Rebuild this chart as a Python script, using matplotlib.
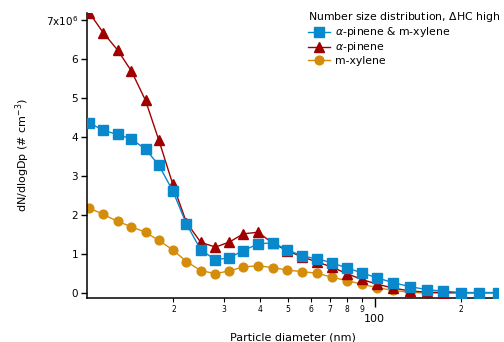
import matplotlib
matplotlib.use('Agg')
import matplotlib.pyplot as plt
from matplotlib.ticker import FixedLocator, FixedFormatter, FuncFormatter

# particle diameter (nm)
dp = [10.2, 11.4, 12.8, 14.3, 16.0, 17.8, 19.9, 22.2, 24.9, 28.0,
      31.3, 35.0, 39.3, 44.3, 49.8, 56.0, 63.0, 70.9, 80.0, 90.3,
      101.9, 115.8, 132.5, 151.6, 173.3, 199.4, 229.7, 267.6]

# dN/dlogDp, units of 1e6 cm^-3
mix = [4.36, 4.16, 4.06, 3.94, 3.68, 3.27, 2.61, 1.76, 1.10, 0.84,
       0.90, 1.08, 1.25, 1.28, 1.10, 0.94, 0.87, 0.77, 0.635, 0.51,
       0.38, 0.26, 0.155, 0.08, 0.04, 0.005, 0.005, 0.005]
apinene = [7.18, 6.67, 6.22, 5.68, 4.93, 3.91, 2.78, 1.80, 1.29, 1.17,
           1.30, 1.51, 1.55, 1.27, 1.07, 0.92, 0.79, 0.66, 0.49, 0.34,
           0.22, 0.12, 0.045, 0.015, 0.005, 0.0, 0.0, 0.0]
mxylene = [2.17, 2.01, 1.83, 1.69, 1.55, 1.34, 1.10, 0.80, 0.565, 0.49,
           0.56, 0.66, 0.69, 0.645, 0.58, 0.54, 0.50, 0.40, 0.31, 0.22,
           0.13, 0.06, 0.01, -0.01, -0.01, 0.0, 0.0, 0.0]

labels = [r'$\alpha$-pinene & m-xylene', r'$\alpha$-pinene', 'm-xylene']
colors = ['#0a88cc', '#a00000', '#d48d0a']

fig = plt.figure(figsize=(5.04, 3.42), dpi=100)
ax = fig.add_axes([0.1726, 0.1295, 0.8154, 0.8335])

h_mix, = ax.plot(dp, mix, '-s', color=colors[0], ms=6.5, lw=1.0, zorder=4,
                 label=labels[0])
h_ap, = ax.plot(dp, apinene, '-^', color=colors[1], ms=6.5, lw=1.0, zorder=3,
                label=labels[1])
h_mx, = ax.plot(dp, mxylene, '-o', color=colors[2], ms=6.3, lw=1.0, zorder=2,
                label=labels[2])

ax.set_xscale('log')
ax.set_xlim(10.02, 268)
ax.set_ylim(-0.128, 7.18)

for s in ['top', 'right']:
    ax.spines[s].set_visible(False)
for s in ['left', 'bottom']:
    ax.spines[s].set_linewidth(1.1)

# x ticks
minor = [20, 30, 40, 50, 60, 70, 80, 90, 200]
ax.xaxis.set_major_locator(FixedLocator([100]))
ax.xaxis.set_major_formatter(FixedFormatter(['100']))
ax.xaxis.set_minor_locator(FixedLocator(minor))
ax.xaxis.set_minor_formatter(FixedFormatter([str(m)[0] for m in minor]))
ax.tick_params(axis='x', which='major', length=6.5, width=1.0, labelsize=8, pad=5)
ax.tick_params(axis='x', which='minor', length=3.2, width=0.8, labelsize=5.5, pad=2)

# y ticks
ax.set_yticks(range(8))
ax.yaxis.set_major_formatter(FuncFormatter(
    lambda v, p: r'7x10$^{6}$' if round(v) == 7 else '%d' % round(v)))
ax.tick_params(axis='y', which='major', length=4.5, width=1.0, labelsize=7.5, pad=2)

ax.set_xlabel('Particle diameter (nm)', fontsize=8, labelpad=6)
ax.set_ylabel(r'dN/dlogDp (# cm$^{-3}$)', fontsize=8, labelpad=10)

leg = ax.legend(handles=[h_mix, h_ap, h_mx],
                title=r'Number size distribution, $\Delta$HC high',
                loc='upper left', bbox_to_anchor=(0.52, 1.035),
                frameon=False, fontsize=7.8, title_fontsize=7.8,
                handlelength=2.0, handletextpad=0.5, labelspacing=0.1,
                borderpad=0.2, alignment='left')

fig.savefig('out.png', dpi=100)
